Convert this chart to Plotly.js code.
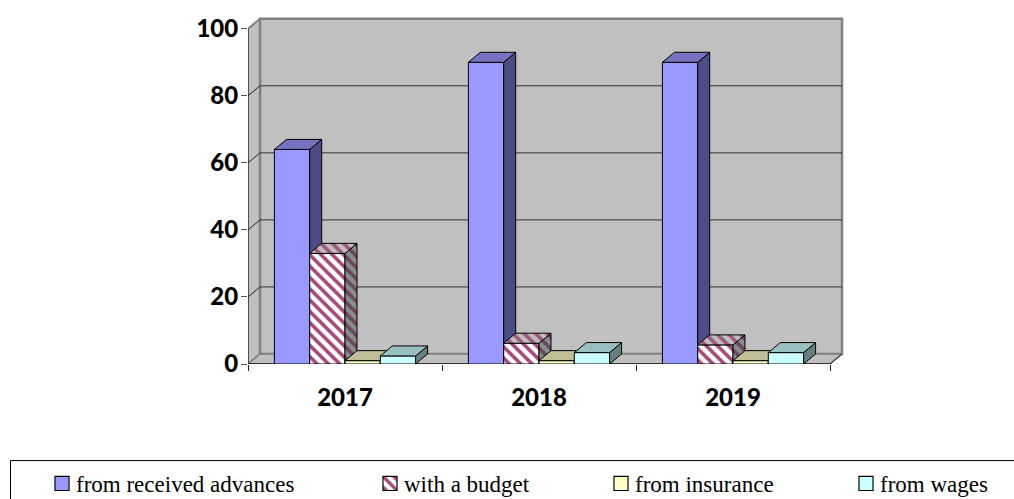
<!DOCTYPE html>
<html>
<head>
<meta charset="utf-8">
<script src="https://cdn.plot.ly/plotly-3.0.1.min.js"></script>
<style>html,body{margin:0;padding:0;background:#fff;overflow:hidden}</style>
</head>
<body>
<div id="chart" style="width:1014px;height:499px"></div>
<script>
// Receivables structure by year, in percent
const years = ['2017', '2018', '2019'];
const fromAdvances = [64, 90, 90];
const withBudget = [33, 6.2, 5.7];
const fromInsurance = [1, 1, 1];
const fromWages = [2.4, 3.4, 3.4];
const yTicks = [0, 20, 40, 60, 80, 100];
const seriesNames = ['from received advances', 'with a budget', 'from insurance', 'from wages'];

// Plot box in pixels and the oblique depth of the 3D look, converted to axis units
const PAGE = {width: 1014, height: 499};
const PLOT = {left: 248, top: 12.25, width: 612, height: 351.75};
const X_PER_CAT = 194, Y_PER_UNIT = 3.35;
const DX = 12 / X_PER_CAT, DY = 10 / Y_PER_UNIT;
const BAR_W = 35.3 / X_PER_CAT;
const xRange = [-0.5, -0.5 + PLOT.width / X_PER_CAT];
const yRange = [0, PLOT.height / Y_PER_UNIT];
const X0 = -0.5, X1 = 2.5, YMAX = 100;

const styles = [
  {front: '#9999FF', side: '#4D4D85', top: '#7373BF'},
  {front: '#FFFFFF', fg: '#A34A78', side: '#8C8C8C', sideFg: '#66485A', top: '#C4BCC0', topFg: '#9A5A7C'},
  {front: '#FFFFCC', side: '#80806A', top: '#BFBF99'},
  {front: '#CCFFFF', side: '#668080', top: '#99BFBF'}
];
const values = [fromAdvances, withBudget, fromInsurance, fromWages];
const WALL_EDGE = '#808080';
const STRIPE = {size: 8, solidity: 0.45};

const traces = [];

function polygon(xs, ys, color, lineColor, lineWidth, extra) {
  return Object.assign({
    type: 'scatter', mode: 'lines', x: xs, y: ys, fill: 'toself', fillcolor: color,
    line: {color: lineColor, width: lineWidth}, showlegend: false, hoverinfo: 'skip'
  }, extra || {});
}
function polyline(xs, ys, color, width) {
  return {type: 'scatter', mode: 'lines', x: xs, y: ys, line: {color: color, width: width},
    showlegend: false, hoverinfo: 'skip', cliponaxis: false};
}

// Chart walls and floor on the base axes
traces.push(polygon([X0, X0 + DX, X0 + DX, X0, X0], [0, DY, YMAX + DY, YMAX, 0], '#C0C0C0', WALL_EDGE, 2));
traces.push(polygon([X0 + DX, X1 + DX, X1 + DX, X0 + DX, X0 + DX], [DY, DY, YMAX + DY, YMAX + DY, DY], '#C0C0C0', WALL_EDGE, 2.5));
traces.push(polygon([X0, X1, X1 + DX, X0 + DX, X0], [0, 0, DY, DY, 0], '#C0C0C0', WALL_EDGE, 1.5));
yTicks.filter(v => v > 0 && v < YMAX).forEach(v => {
  traces.push(polyline([X0 + DX, X1 + DX], [v + DY, v + DY], '#333333', 1));
  traces.push(polyline([X0, X0 + DX], [v, v + DY], '#222222', 1));
});
traces.push(polyline([X0, X0], [0, YMAX], '#222222', 1));
traces.push(polyline([X0, X1], [0, 0], '#111111', 1.5));
traces.push(polyline([X1, X1 + DX], [0, DY], '#222222', 1));

// Each series sits on its own overlaid axes so that later bars cover earlier side faces
const extraAxes = {};
seriesNames.forEach((name, s) => {
  const n = s + 2;
  const xa = 'x' + n, ya = 'y' + n;
  extraAxes['xaxis' + n] = {range: xRange, overlaying: 'x', visible: false, fixedrange: true};
  extraAxes['yaxis' + n] = {range: yRange, overlaying: 'y', visible: false, fixedrange: true};
  const st = styles[s];
  const xLeft = years.map((_, c) => c + (s - 2) * BAR_W);

  const frontMarker = {color: st.front, line: {color: '#000000', width: 1}};
  if (st.fg) frontMarker.pattern = Object.assign({shape: '\\', fgcolor: st.fg, bgcolor: st.front, fillmode: 'replace'}, STRIPE);
  traces.push({
    type: 'bar', name: name, x: xLeft.map(x => x + BAR_W / 2), y: values[s], width: BAR_W,
    marker: frontMarker, xaxis: xa, yaxis: ya, legend: s === 0 ? 'legend' : 'legend' + (s + 1),
    hoverinfo: 'skip'
  });

  const sideX = [], sideY = [], topX = [], topY = [];
  values[s].forEach((v, c) => {
    const l = xLeft[c], r = l + BAR_W;
    sideX.push(r, r + DX, r + DX, r, r, null);
    sideY.push(0, DY, v + DY, v, 0, null);
    topX.push(l, r, r + DX, l + DX, l, null);
    topY.push(v, v, v + DY, v + DY, v, null);
  });
  const sideExtra = {xaxis: xa, yaxis: ya}, topExtra = {xaxis: xa, yaxis: ya};
  if (st.fg) {
    sideExtra.fillpattern = Object.assign({shape: '\\', fgcolor: st.sideFg, bgcolor: st.side}, STRIPE);
    topExtra.fillpattern = Object.assign({shape: '\\', fgcolor: st.topFg, bgcolor: st.top}, STRIPE);
  }
  traces.push(polygon(sideX, sideY, st.side, '#000000', 1, sideExtra));
  traces.push(polygon(topX, topY, st.top, '#000000', 1, topExtra));
});

// One legend per entry, since the entries are unevenly spaced along the box.
// Container-anchored legends leave the plot margins untouched.
const legendBase = {
  orientation: 'h', xref: 'container', yref: 'container', xanchor: 'left', yanchor: 'top',
  bgcolor: 'rgba(0,0,0,0)', borderwidth: 0,
  font: {family: '"Liberation Serif", serif', size: 23, color: '#000000'},
  itemclick: false, itemdoubleclick: false
};
const toPaperX = px => (px - PLOT.left) / PLOT.width;
const toPaperY = py => (PLOT.top + PLOT.height - py) / PLOT.height;
const legendLeft = [36, 364, 595, 840];
const legendTop = 462;

const axisFont = {family: 'Lato, sans-serif', size: 24, color: '#000000', weight: 900};
const layout = Object.assign({
  width: PAGE.width, height: PAGE.height, autosize: false,
  margin: {l: PLOT.left, t: PLOT.top, r: PAGE.width - PLOT.left - PLOT.width, b: PAGE.height - PLOT.top - PLOT.height, pad: 0},
  paper_bgcolor: '#FFFFFF', plot_bgcolor: 'rgba(0,0,0,0)',
  showlegend: true, barmode: 'overlay',
  xaxis: {
    range: xRange, fixedrange: true, showgrid: false, zeroline: false, showline: false,
    tickmode: 'array', tickvals: years.map((_, i) => i), ticktext: years, ticks: '',
    tickfont: axisFont, ticklabelstandoff: 17,
    minor: {tickmode: 'array', tickvals: [-0.5, 0.5, 1.5, 2.5], ticks: 'outside', ticklen: 6, tickwidth: 1, tickcolor: '#222222', showgrid: false}
  },
  yaxis: {
    range: yRange, fixedrange: true, showgrid: false, zeroline: false, showline: false,
    tickmode: 'array', tickvals: yTicks, ticks: 'outside', ticklen: 6, tickwidth: 1, tickcolor: '#555555',
    tickfont: axisFont, ticklabelstandoff: -2
  },
  shapes: [{
    type: 'rect', xref: 'paper', yref: 'paper',
    x0: toPaperX(10.5), x1: toPaperX(1040), y0: toPaperY(460.5), y1: toPaperY(540),
    line: {color: '#000000', width: 1}, fillcolor: 'rgba(0,0,0,0)'
  }]
}, extraAxes);
seriesNames.forEach((_, s) => {
  const key = s === 0 ? 'legend' : 'legend' + (s + 1);
  layout[key] = Object.assign({}, legendBase, {x: legendLeft[s] / PAGE.width, y: 1 - legendTop / PAGE.height});
});

Plotly.newPlot('chart', traces, layout, {displayModeBar: false}).then(() => {
  // Tighten the swatch-to-label gap and enlarge the legend swatches
  document.querySelectorAll('#chart .legendsymbols').forEach(g => {
    g.setAttribute('transform', 'translate(6,0)');
    g.querySelectorAll('.legendpoints').forEach(p => {
      p.setAttribute('transform', 'translate(20,0) scale(1.17) translate(-20,0)');
    });
  });
});
</script>
</body>
</html>
